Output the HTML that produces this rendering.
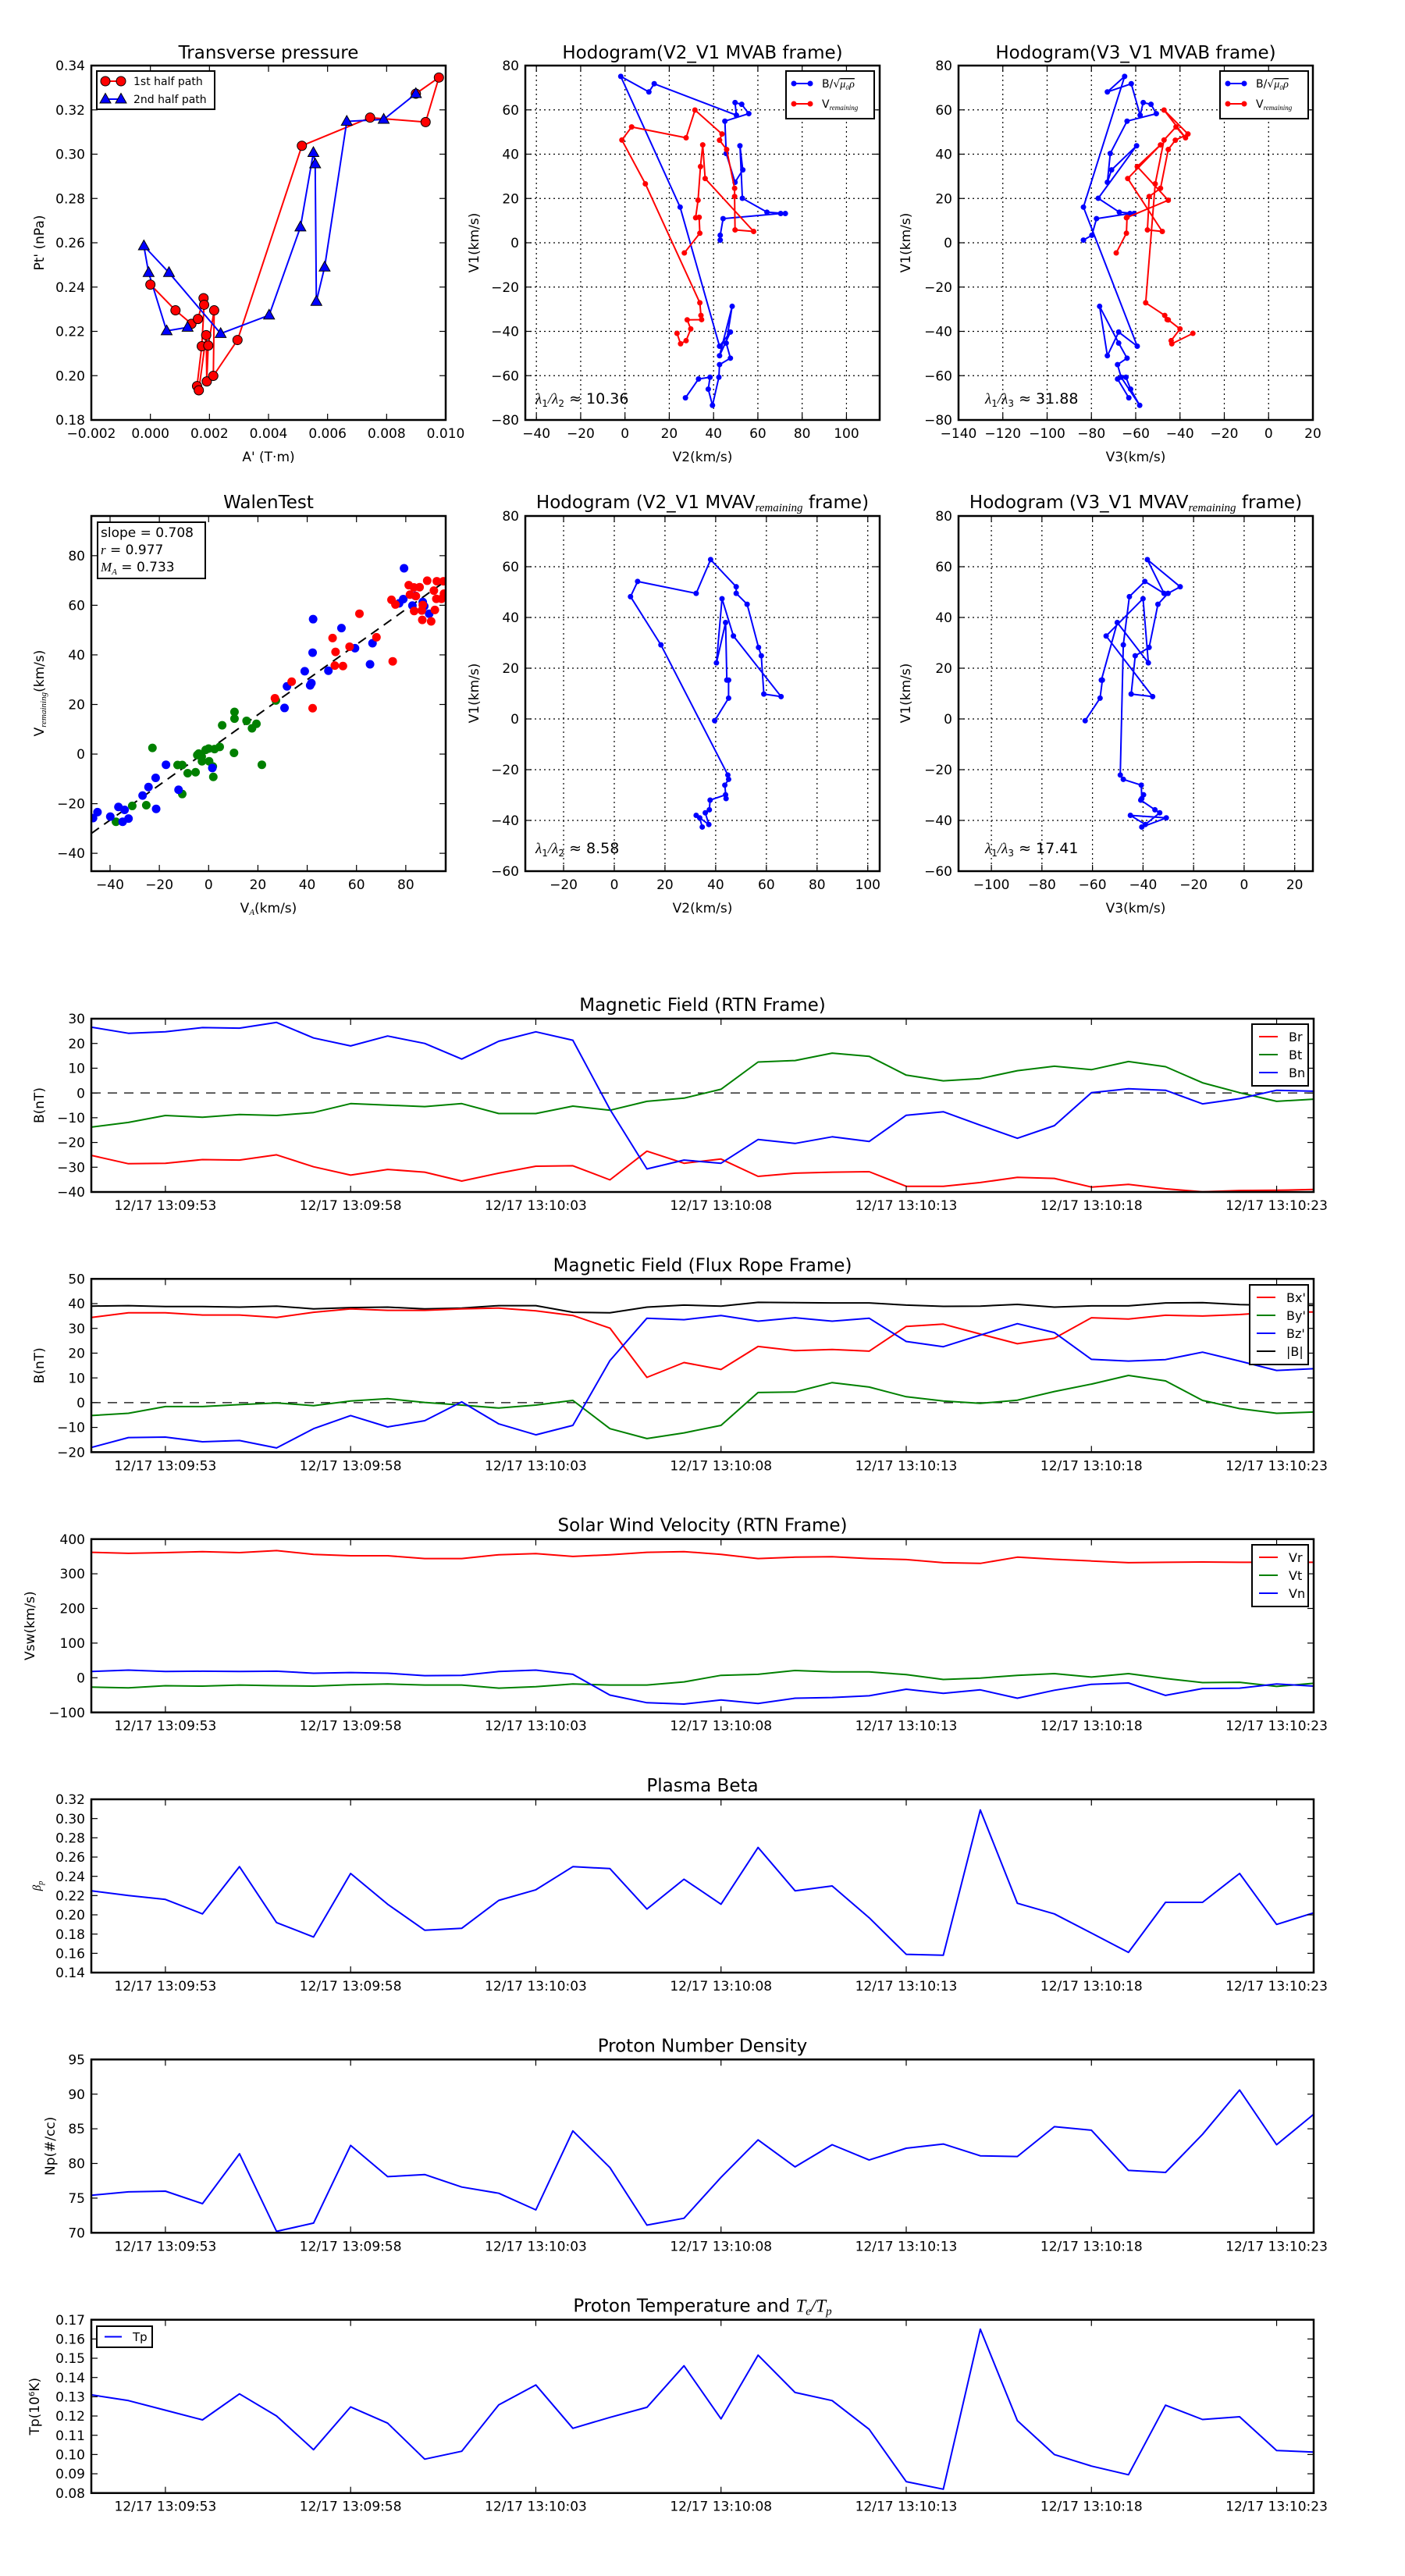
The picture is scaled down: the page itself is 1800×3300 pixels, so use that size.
<!DOCTYPE html>
<html><head><meta charset="utf-8">
<style>
html,body{margin:0;padding:0;background:#fff;}
svg{display:block;font-family:"DejaVu Sans","Liberation Sans",sans-serif;}
</style></head>
<body>
<svg id="fig" xmlns="http://www.w3.org/2000/svg" width="1800" height="3300" viewBox="0 0 1800 3300">
<rect x="0" y="0" width="1800" height="3300" fill="#fff"/>
</svg>
<script>
// ---------- Transverse pressure ----------
const tpRedA = [0.0000,0.00085,0.00139,0.00161,0.0018,0.00182,0.00174,0.00158,0.00164,0.00189,0.00191,0.00196,0.00216,0.00213,0.00295,0.00513,0.00744,0.00932,0.00977,0.00899];
const tpRedP = [0.2411,0.2295,0.2234,0.2256,0.235,0.232,0.2133,0.1953,0.1934,0.2183,0.1974,0.2136,0.2295,0.1999,0.2161,0.3038,0.3165,0.3145,0.3346,0.3273];
const tpBlueA = [0.00126,0.00055,-0.00006,-0.00022,0.00063,0.00238,0.00402,0.00508,0.00552,0.00558,0.00562,0.0059,0.00665,0.0079,0.00899];
const tpBlueP = [0.2218,0.2202,0.2465,0.2586,0.2465,0.2190,0.2273,0.2671,0.3007,0.2956,0.2335,0.2490,0.3148,0.3157,0.3273];
// ---------- Hodograms MVAB ----------
const h1BV2 = [27.3,33.2,38.4,37.6,39.5,42.4,42.7,47.6,45.7,48.4,42.7,47.6,42.7,24.9,-1.9,10.8,13.2,50.3,49.7,52.7,55.9,45.1,45.7,49.7,53.2,51.9,53.0,64.1,72.4,70.3,44.3,43.0,43.0];
const h1BV1 = [-70.0,-61.5,-60.7,-66.1,-73.4,-60.7,-55.0,-52.1,-45.3,-28.7,-51.0,-40.3,-46.7,16.1,75.1,68.1,71.8,57.6,63.3,62.5,58.3,54.9,40.3,27.3,32.9,43.8,20.1,13.8,13.2,13.2,10.9,3.4,1.2];
const h1BV3 = [-63.1,-68.2,-64.4,-62.3,-58.2,-66.6,-68.2,-63.9,-67.7,-76.3,-72.8,-67.7,-59.3,-83.6,-65.0,-72.8,-62.0,-58.0,-56.6,-53.1,-50.7,-63.9,-71.5,-72.8,-70.9,-59.6,-76.9,-67.4,-60.7,-62.6,-77.7,-79.8,-83.6];
const h1VV2 = [23.5,25.1,27.6,29.7,28.1,34.6,34.3,33.8,9.2,-1.4,3.0,27.6,31.6,43.8,42.7,45.9,49.5,49.5,49.7,58.1,36.2,35.1,34.1,33.0,31.9,33.5,33.8,26.8];
const h1VV1 = [-40.9,-45.6,-44.2,-38.9,-34.8,-34.7,-32.8,-27.1,26.6,46.4,52.3,47.4,59.9,49.1,46.3,42.1,24.6,20.9,5.8,5.1,29.0,44.2,34.4,19.2,11.3,11.5,4.3,-4.6];
const h1VV3 = [-34.2,-43.7,-44.0,-40.0,-45.3,-45.8,-46.9,-55.5,-51.2,-47.2,-41.8,-37.5,-47.2,-36.4,-42.1,-45.3,-48.8,-53.9,-54.7,-48.0,-63.6,-48.8,-59.3,-45.3,-64.2,-63.9,-64.2,-68.8];
const ratio1 = "10.36", ratio2 = "31.88", ratio3 = "8.58", ratio4 = "17.41";
// ---------- Hodograms MVAV ----------
const h2V2 = [34.7,33.7,32.3,37.3,35.9,37.5,37.8,43.9,44.1,43.6,45.1,44.8,18.4,6.4,9.2,32.3,38.0,48.1,48.1,52.4,56.9,58.0,59.0,65.8,47.0,42.5,40.3,43.9,44.4,45.1,45.1,39.6];
const h2V1 = [-42.6,-39.0,-38.0,-41.6,-37.0,-35.8,-32.0,-29.9,-31.4,-26.1,-23.8,-22.1,29.2,48.2,54.2,49.5,62.8,52.1,49.5,45.2,28.2,24.9,9.8,8.8,32.7,47.4,22.1,38.0,15.3,15.3,8.2,-0.7];
const h2V3 = [-40.5,-30.8,-45.0,-39.1,-33.4,-35.3,-40.9,-39.8,-40.5,-40.7,-47.8,-49.0,-47.8,-45.4,-39.3,-31.7,-38.3,-25.3,-30.1,-34.1,-37.6,-43.1,-44.7,-36.2,-54.6,-40.0,-37.9,-50.2,-56.5,-56.1,-57.0,-62.9];
// ---------- Walen test ----------
const wRedX = [74.2,75.8,81.2,83.3,85.6,88.7,92.6,95.3,81.7,84.1,91.4,92.4,94.5,91.8,86.5,83.4,86.7,90.3,86.9,95.5,61.2,50.3,51.5,57.2,68.1,51.2,54.5,74.7,33.7,26.9,42.2];
const wRedY = [62.2,60.3,68.1,67.2,67.3,69.9,69.7,69.7,64.3,63.7,65.9,62.6,62.6,58.1,57.9,57.7,54.1,53.5,60.1,64.7,56.6,46.8,41.2,43.3,47.1,35.7,35.5,37.4,29.2,22.5,18.5];
const wBlueX = [79.3,79.0,77.3,82.7,83.9,86.9,87.5,89.5,42.4,53.9,42.2,59.4,66.5,65.5,39.0,48.6,41.7,41.2,31.8,30.8,-17.3,-21.5,1.5,-24.4,-26.8,-12.2,-21.3,-45.1,-46.9,-36.6,-34.1,-39.9,-34.9,-32.5];
const wBlueY = [74.9,62.5,60.8,59.9,63.8,61.3,59.6,56.6,54.4,50.8,40.9,42.7,44.7,36.2,33.4,33.6,28.6,27.7,27.3,18.6,-4.3,-9.6,-5.6,-13.3,-16.7,-14.4,-22.1,-23.4,-25.8,-21.3,-22.5,-25.2,-27.3,-26.0];
const wGreenX = [27.3,10.5,10.5,15.4,19.4,17.6,5.5,21.6,-22.8,10.3,-4.0,-1.2,0.0,2.4,4.5,-2.7,0.2,1.7,1.9,-12.6,-10.7,-8.5,-5.3,-10.7,-25.3,-31.0,-37.6,-2.8,-4.6];
const wGreenY = [21.6,17.0,14.3,13.4,12.2,10.4,11.6,-4.3,2.5,0.5,0.2,1.7,2.2,2.0,2.9,-2.9,-2.9,-5.0,-9.2,-4.4,-4.4,-7.7,-7.3,-16.1,-20.6,-20.9,-27.3,-1.0,-0.4];
const fitSlope = 0.708, fitIntercept = 1.7;
const walenStats = ["0.708","0.977","0.733"];
// ---------- Time series (1 s cadence from 13:09:51) ----------
const timeTickLabels = ["12/17 13:09:53","12/17 13:09:58","12/17 13:10:03","12/17 13:10:08","12/17 13:10:13","12/17 13:10:18","12/17 13:10:23"];
const timeTickSec = [2,7,12,17,22,27,32];
const Br = [-25.2,-28.6,-28.4,-26.9,-27.1,-25.0,-29.8,-33.2,-30.9,-32.0,-35.6,-32.4,-29.6,-29.4,-35.1,-23.5,-28.4,-26.7,-33.7,-32.4,-32.0,-31.8,-37.7,-37.7,-36.2,-34.1,-34.5,-38.0,-36.9,-38.7,-39.9,-39.4,-39.3,-39.0];
const Bt = [-13.8,-11.9,-9.1,-9.8,-8.7,-9.1,-7.9,-4.3,-4.9,-5.5,-4.3,-8.3,-8.3,-5.3,-7.0,-3.4,-2.1,1.5,12.5,13.1,16.1,14.8,7.2,4.9,5.8,9.0,10.8,9.4,12.7,10.6,4.1,0.1,-3.4,-2.5];
const Bn = [26.6,24.1,24.7,26.4,26.2,28.5,22.2,19.0,23.0,20.0,13.7,20.9,24.7,21.3,-6.6,-30.7,-27.1,-28.4,-18.8,-20.4,-17.7,-19.6,-9.0,-7.6,-13.0,-18.3,-13.2,0.1,1.7,1.1,-4.4,-2.3,1.1,0.7];
const Bx = [34.4,36.3,36.3,35.4,35.4,34.4,36.5,37.9,37.3,37.3,37.9,38.2,37.1,35.2,30.1,10.2,16.2,13.4,22.7,21.0,21.5,20.8,30.8,31.7,27.7,23.8,26.0,34.3,33.8,35.3,35.0,35.6,36.6,36.6];
const By = [-5.2,-4.3,-1.6,-1.6,-0.8,-0.1,-1.2,0.7,1.6,0.1,-1.0,-2.2,-1.0,0.9,-10.5,-14.5,-12.2,-9.2,4.1,4.3,8.1,6.3,2.4,0.7,-0.3,1.0,4.5,7.5,11.0,8.8,0.9,-2.4,-4.3,-3.8];
const Bz = [-18.1,-14.1,-13.9,-15.8,-15.3,-18.3,-10.5,-5.2,-9.8,-7.3,0.3,-8.6,-13.0,-9.2,17.0,34.1,33.5,35.2,32.9,34.3,32.9,34.1,24.7,22.6,27.3,31.9,28.3,17.5,16.8,17.4,20.4,16.8,13.0,13.7];
const Bmag = [39.0,39.2,38.8,38.8,38.6,39.0,37.9,38.4,38.6,37.9,38.2,39.2,39.2,36.5,36.3,38.6,39.4,39.0,40.5,40.4,40.3,40.3,39.4,38.9,39.0,39.7,38.6,39.1,39.1,40.3,40.4,39.6,39.3,39.3];
const Vr = [362,359,361,364,361,367,356,352,352,344,344,355,358,350,355,362,364,356,344,348,349,344,341,332,330,348,342,337,332,333,334,333,333,333];
const Vt = [-27,-29,-23,-24,-21,-23,-24,-20,-18,-21,-21,-30,-26,-18,-21,-21,-12,7,10,21,17,17,9,-5,-1,7,12,2,12,-2,-14,-13,-25,-16];
const Vn = [18,22,18,19,18,19,13,15,13,6,7,18,22,10,-50,-72,-76,-64,-74,-59,-57,-52,-33,-45,-35,-59,-36,-19,-15,-51,-31,-30,-18,-24];
const betaP = [0.225,0.220,0.216,0.201,0.250,0.192,0.177,0.243,0.211,0.184,0.186,0.215,0.226,0.250,0.248,0.206,0.237,0.211,0.270,0.225,0.230,0.197,0.159,0.158,0.309,0.212,0.201,0.181,0.161,0.213,0.213,0.243,0.190,0.202];
const Np = [75.4,75.9,76.0,74.2,81.4,70.2,71.4,82.6,78.1,78.4,76.6,75.7,73.3,84.7,79.4,71.1,72.1,78.0,83.4,79.5,82.7,80.5,82.2,82.8,81.1,81.0,85.3,84.8,79.0,78.7,84.2,90.6,82.7,87.1];
const Tp = [0.131,0.128,0.123,0.118,0.1315,0.120,0.1025,0.1247,0.1163,0.0976,0.1017,0.1258,0.1361,0.1136,0.1193,0.1245,0.1461,0.1185,0.1516,0.1322,0.128,0.1131,0.0859,0.082,0.1651,0.1176,0.100,0.094,0.0895,0.1256,0.1182,0.1196,0.1021,0.1013];

const NS = "http://www.w3.org/2000/svg";
const svg = document.getElementById('fig');
const TF = 23, TK = 17, LB = 17;
function mk(tag, attrs, parent) {
  const e = document.createElementNS(NS, tag);
  for (const k in attrs) e.setAttribute(k, attrs[k]);
  (parent || svg).appendChild(e);
  return e;
}
function fmt(v, d) { return v.toFixed(d).replace('-', '\u2212'); }
function txt(parent, x, y, s, size, anchor, name) {
  const t = mk('text', {x: x, y: y, 'font-size': size, 'text-anchor': anchor || 'middle', fill: '#000'}, parent);
  t.textContent = s;
  
  
  return t;
}

function makeAxes(name, L, R, Tt, B, xmin, xmax, ymin, ymax, xt, yt, xd, yd, grid, fs) {
  const g = mk('g', {});
  
  
  const sx = v => L + (v - xmin) / (xmax - xmin) * (R - L);
  const sy = v => B - (v - ymin) / (ymax - ymin) * (B - Tt);
  const clipId = 'c' + name;
  const cp = mk('clipPath', {id: clipId}, g);
  mk('rect', {x: L, y: Tt, width: R - L, height: B - Tt}, cp);
  const grp = mk('g', {}, g);
  const plot = mk('g', {'clip-path': 'url(#' + clipId + ')'}, g);
  const frame = mk('g', {}, g);
  xt.forEach(v => {
    const x = sx(v);
    if (grid) mk('line', {x1: x, x2: x, y1: Tt, y2: B, stroke: '#000', 'stroke-width': 1.2, 'stroke-dasharray': '2,4'}, grp);
    mk('line', {x1: x, x2: x, y1: B, y2: B - 8, stroke: '#000', 'stroke-width': 1.2}, frame);
    mk('line', {x1: x, x2: x, y1: Tt, y2: Tt + 8, stroke: '#000', 'stroke-width': 1.2}, frame);
    if (xd !== null) txt(frame, x, B + 23, fmt(v, xd), fs, 'middle', 'x-tick-label');
  });
  yt.forEach(v => {
    const y = sy(v);
    if (grid) mk('line', {x1: L, x2: R, y1: y, y2: y, stroke: '#000', 'stroke-width': 1.2, 'stroke-dasharray': '2,4'}, grp);
    mk('line', {x1: L, x2: L + 8, y1: y, y2: y, stroke: '#000', 'stroke-width': 1.2}, frame);
    mk('line', {x1: R, x2: R - 8, y1: y, y2: y, stroke: '#000', 'stroke-width': 1.2}, frame);
    txt(frame, L - 8, y + fs * 0.36, fmt(v, yd), fs, 'end', 'y-tick-label');
  });
  mk('rect', {x: L, y: Tt, width: R - L, height: B - Tt, fill: 'none', stroke: '#000', 'stroke-width': 2.5}, frame);
  return {g, plot, frame, sx, sy, L, R, T: Tt, B};
}
function range(a, b, s) { const r = []; for (let v = a; v <= b + 1e-9; v += s) r.push(Math.round(v * 1e6) / 1e6); return r; }
function poly(ax, xs, ys, color, w, name) {
  const pts = xs.map((x, i) => ax.sx(x).toFixed(1) + ',' + ax.sy(ys[i]).toFixed(1)).join(' ');
  const p = mk('polyline', {points: pts, fill: 'none', stroke: color, 'stroke-width': w, 'stroke-linejoin': 'round'}, ax.plot);
  
  
  return p;
}
function dots(ax, xs, ys, color, r, name, stroke) {
  xs.forEach((x, i) => {
    const c = mk('circle', {cx: ax.sx(x), cy: ax.sy(ys[i]), r: r, fill: color, stroke: stroke || 'none', 'stroke-width': 1}, ax.plot);
    
    
  });
}
function tris(ax, xs, ys, color, name) {
  xs.forEach((x, i) => {
    const cx = ax.sx(x), cy = ax.sy(ys[i]);
    const t = mk('polygon', {points: `${cx},${cy - 7.5} ${cx - 7},${cy + 5} ${cx + 7},${cy + 5}`, fill: color, stroke: '#000', 'stroke-width': 1}, ax.plot);
    
    
  });
}
function ylabel(x, y, s, size, name) {
  const t = txt(svg, x, y, s, size, 'middle', name);
  t.setAttribute('transform', `rotate(-90 ${x} ${y})`);
  return t;
}

// ===== Transverse pressure =====
const axTP = makeAxes('transverse-pressure-chart', 117, 571, 84, 538, -0.002, 0.010, 0.18, 0.34, range(-0.002, 0.010, 0.002), range(0.18, 0.34, 0.02), 3, 2, false, TK);
poly(axTP, tpRedA, tpRedP, '#ff0000', 2, 'first-half-path-line');
poly(axTP, tpBlueA, tpBlueP, '#0000ff', 2, 'second-half-path-line');
dots(axTP, tpRedA, tpRedP, '#ff0000', 6, 'first-half-point', '#000');
tris(axTP, tpBlueA, tpBlueP, '#0000ff', 'second-half-point');
txt(svg, 344, 75, 'Transverse pressure', TF, 'middle', 'chart-title');
txt(svg, 344, 591, "A' (T\u00b7m)", LB, 'middle', 'x-axis-title');
ylabel(56, 311, "Pt' (nPa)", LB, 'y-axis-title');
(function () {
  const lg = mk('g', {});
  
  
  mk('rect', {x: 124, y: 91, width: 151, height: 49, fill: '#fff', stroke: '#000', 'stroke-width': 2}, lg);
  mk('line', {x1: 135, x2: 155, y1: 104, y2: 104, stroke: '#f00', 'stroke-width': 2}, lg);
  mk('circle', {cx: 135, cy: 104, r: 6, fill: '#f00', stroke: '#000'}, lg);
  mk('circle', {cx: 155, cy: 104, r: 6, fill: '#f00', stroke: '#000'}, lg);
  mk('line', {x1: 135, x2: 155, y1: 127, y2: 127, stroke: '#00f', 'stroke-width': 2}, lg);
  mk('polygon', {points: '135,119.5 128,132 142,132', fill: '#00f', stroke: '#000'}, lg);
  mk('polygon', {points: '155,119.5 148,132 162,132', fill: '#00f', stroke: '#000'}, lg);
  txt(lg, 171, 109, '1st half path', 14, 'start', 'legend-entry');
  txt(lg, 171, 132, '2nd half path', 14, 'start', 'legend-entry');
})();

// ===== Hodogram helpers =====
function hodoLegend(x) {
  const lg = mk('g', {});
  
  
  mk('rect', {x: x, y: 91, width: 113, height: 61, fill: '#fff', stroke: '#000', 'stroke-width': 2}, lg);
  mk('line', {x1: x + 10, x2: x + 31, y1: 107, y2: 107, stroke: '#00f', 'stroke-width': 2}, lg);
  mk('circle', {cx: x + 10, cy: 107, r: 3.5, fill: '#00f'}, lg);
  mk('circle', {cx: x + 31, cy: 107, r: 3.5, fill: '#00f'}, lg);
  mk('line', {x1: x + 10, x2: x + 31, y1: 133, y2: 133, stroke: '#f00', 'stroke-width': 2}, lg);
  mk('circle', {cx: x + 10, cy: 133, r: 3.5, fill: '#f00'}, lg);
  mk('circle', {cx: x + 31, cy: 133, r: 3.5, fill: '#f00'}, lg);
  const t1 = txt(lg, x + 46, 112, 'B/\u221A', 14, 'start', 'legend-entry');
  const ts = mk('tspan', {'font-family': 'Liberation Serif, serif', 'font-style': 'italic', 'text-decoration': 'overline'}, t1);
  ts.textContent = '\u03bc\u2080\u03c1';
  const t2 = txt(lg, x + 46, 138, 'V', 14, 'start', 'legend-entry');
  const ts2 = mk('tspan', {'font-family': 'Liberation Serif, serif', 'font-style': 'italic', 'font-size': 9, dy: 3}, t2);
  ts2.textContent = 'remaining';
}
function ratioText(x, y, a, b, val) {
  const t = txt(svg, x, y, '', 19, 'start', 'eigenvalue-ratio');
  const parts = [['\u03bb', 'i'], [a, 's'], ['/\u03bb', 'i'], [b, 's'], [' \u2248 ' + val, 'n']];
  parts.forEach(p => {
    const s = mk('tspan', {}, t);
    if (p[1] === 'i') { s.setAttribute('font-family', 'Liberation Serif, serif'); s.setAttribute('font-style', 'italic'); }
    if (p[1] === 's') { s.setAttribute('font-size', 12); s.setAttribute('dy', 4); }
    if (p[1] !== 's' && t.childNodes.length > 1) s.setAttribute('dy', -4);
    if (p[1] === 'n') s.setAttribute('font-family', 'DejaVu Sans, sans-serif');
    s.textContent = p[0];
  });
}

// ===== Hodogram V2_V1 MVAB =====
const axH1 = makeAxes('hodogram-v2-v1-mvab', 673, 1127, 84, 538, -45, 115, -80, 80, range(-40, 100, 20), range(-80, 80, 20), 0, 0, true, TK);
poly(axH1, h1BV2, h1BV1, '#0000ff', 2, 'b-alfven-path');
dots(axH1, h1BV2, h1BV1, '#0000ff', 3.5, 'b-alfven-point');
poly(axH1, h1VV2, h1VV1, '#ff0000', 2, 'v-remaining-path');
dots(axH1, h1VV2, h1VV1, '#ff0000', 3.5, 'v-remaining-point');
txt(svg, 900, 75, 'Hodogram(V2_V1 MVAB frame)', TF, 'middle', 'chart-title');
txt(svg, 900, 591, 'V2(km/s)', LB, 'middle', 'x-axis-title');
ylabel(613, 311, 'V1(km/s)', LB, 'y-axis-title');
hodoLegend(1007);
ratioText(686, 517, '1', '2', ratio1);

// ===== Hodogram V3_V1 MVAB =====
const axH2 = makeAxes('hodogram-v3-v1-mvab', 1228, 1682, 84, 538, -140, 20, -80, 80, range(-140, 20, 20), range(-80, 80, 20), 0, 0, true, TK);
poly(axH2, h1BV3, h1BV1, '#0000ff', 2, 'b-alfven-path');
dots(axH2, h1BV3, h1BV1, '#0000ff', 3.5, 'b-alfven-point');
poly(axH2, h1VV3, h1VV1, '#ff0000', 2, 'v-remaining-path');
dots(axH2, h1VV3, h1VV1, '#ff0000', 3.5, 'v-remaining-point');
txt(svg, 1455, 75, 'Hodogram(V3_V1 MVAB frame)', TF, 'middle', 'chart-title');
txt(svg, 1455, 591, 'V3(km/s)', LB, 'middle', 'x-axis-title');
ylabel(1166, 311, 'V1(km/s)', LB, 'y-axis-title');
hodoLegend(1563);
ratioText(1262, 517, '1', '3', ratio2);

// ===== Walen test =====
const axW = makeAxes('walen-test-chart', 117, 571, 661, 1116, -47.6, 96.2, -47.2, 96, range(-40, 80, 20), range(-40, 80, 20), 0, 0, false, TK);
(function () {
  const l = mk('line', {x1: axW.sx(-47.6), y1: axW.sy(fitSlope * -47.6 + fitIntercept), x2: axW.sx(96.2), y2: axW.sy(fitSlope * 96.2 + fitIntercept), stroke: '#000', 'stroke-width': 2, 'stroke-dasharray': '12,8'}, axW.plot);
  
  
})();
dots(axW, wGreenX, wGreenY, '#008000', 5.5, 'walen-point-green');
dots(axW, wBlueX, wBlueY, '#0000ff', 5.5, 'walen-point-blue');
dots(axW, wRedX, wRedY, '#ff0000', 5.5, 'walen-point-red');
txt(svg, 344, 651, 'WalenTest', TF, 'middle', 'chart-title');
(function () {
  const t = txt(svg, 344, 1169, 'V', LB, 'middle', 'x-axis-title');
  const s = mk('tspan', {'font-family': 'Liberation Serif, serif', 'font-style': 'italic', 'font-size': 11, dy: 3}, t);
  s.textContent = 'A';
  const s2 = mk('tspan', {dy: -3}, t);
  s2.textContent = '(km/s)';
  const y = ylabel(56, 888, 'V', LB, 'y-axis-title');
  const s3 = mk('tspan', {'font-family': 'Liberation Serif, serif', 'font-style': 'italic', 'font-size': 11, dy: 3}, y);
  s3.textContent = 'remaining';
  const s4 = mk('tspan', {dy: -3}, y);
  s4.textContent = '(km/s)';
  const box = mk('g', {});
  
  
  mk('rect', {x: 125, y: 669, width: 138, height: 72, fill: '#fff', stroke: '#000', 'stroke-width': 2}, box);
  txt(box, 129, 688, 'slope = ' + walenStats[0], 17, 'start', 'slope-text');
  const r = txt(box, 129, 710, '', 17, 'start', 'r-text');
  const ri = mk('tspan', {'font-family': 'Liberation Serif, serif', 'font-style': 'italic'}, r); ri.textContent = 'r';
  const rv = mk('tspan', {}, r); rv.textContent = ' = ' + walenStats[1];
  const m = txt(box, 129, 732, '', 17, 'start', 'ma-text');
  const mi = mk('tspan', {'font-family': 'Liberation Serif, serif', 'font-style': 'italic'}, m); mi.textContent = 'M';
  const ms = mk('tspan', {'font-family': 'Liberation Serif, serif', 'font-style': 'italic', 'font-size': 11, dy: 4}, m); ms.textContent = 'A';
  const mv = mk('tspan', {dy: -4}, m); mv.textContent = ' = ' + walenStats[2];
})();

// ===== Hodogram MVAV =====
function mvavTitle(x, s1) {
  const t = txt(svg, x, 651, s1, TF, 'middle', 'chart-title');
  const s = mk('tspan', {'font-family': 'Liberation Serif, serif', 'font-style': 'italic', 'font-size': 15, dy: 4}, t);
  s.textContent = 'remaining';
  const s2 = mk('tspan', {dy: -4}, t);
  s2.textContent = ' frame)';
}
const axH3 = makeAxes('hodogram-v2-v1-mvav', 673, 1127, 661, 1116, -35.1, 104.7, -60, 80, range(-20, 100, 20), range(-60, 80, 20), 0, 0, true, TK);
poly(axH3, h2V2, h2V1, '#0000ff', 2, 'b-alfven-path');
dots(axH3, h2V2, h2V1, '#0000ff', 3.5, 'b-alfven-point');
mvavTitle(900, 'Hodogram (V2_V1 MVAV');
txt(svg, 900, 1169, 'V2(km/s)', LB, 'middle', 'x-axis-title');
ylabel(613, 888, 'V1(km/s)', LB, 'y-axis-title');
ratioText(686, 1093, '1', '2', ratio3);

const axH4 = makeAxes('hodogram-v3-v1-mvav', 1228, 1682, 661, 1116, -113, 27.2, -60, 80, range(-100, 20, 20), range(-60, 80, 20), 0, 0, true, TK);
poly(axH4, h2V3, h2V1, '#0000ff', 2, 'b-alfven-path');
dots(axH4, h2V3, h2V1, '#0000ff', 3.5, 'b-alfven-point');
mvavTitle(1455, 'Hodogram (V3_V1 MVAV');
txt(svg, 1455, 1169, 'V3(km/s)', LB, 'middle', 'x-axis-title');
ylabel(1166, 888, 'V1(km/s)', LB, 'y-axis-title');
ratioText(1262, 1093, '1', '3', ratio4);

// ===== Time series =====
const secs = Br.map((_, i) => i);
function tsAxes(name, top, ymin, ymax, ystep, yd) {
  const ax = makeAxes(name, 117, 1683, top, top + 222, 0, 33, ymin, ymax, [], range(ymin, ymax, ystep), null, yd, false, TK);
  timeTickSec.forEach((s, i) => {
    const x = ax.sx(s);
    mk('line', {x1: x, x2: x, y1: ax.B, y2: ax.B - 8, stroke: '#000', 'stroke-width': 1.2}, ax.frame);
    mk('line', {x1: x, x2: x, y1: ax.T, y2: ax.T + 8, stroke: '#000', 'stroke-width': 1.2}, ax.frame);
    txt(ax.frame, x, ax.B + 23, timeTickLabels[i], TK, 'middle', 'x-tick-label');
  });
  return ax;
}
function zeroLine(ax) {
  const l = mk('line', {x1: ax.L, x2: ax.R, y1: ax.sy(0), y2: ax.sy(0), stroke: '#000', 'stroke-width': 1.2, 'stroke-dasharray': '12,9'}, ax.plot);
  
  
}
function tsLegend(x, y, w, labels, colors) {
  const lg = mk('g', {});
  
  
  mk('rect', {x: x, y: y, width: w, height: labels.length * 23 + 10, fill: '#fff', stroke: '#000', 'stroke-width': 2}, lg);
  labels.forEach((lb, i) => {
    const yy = y + 16 + i * 23;
    mk('line', {x1: x + 9, x2: x + 33, y1: yy, y2: yy, stroke: colors[i], 'stroke-width': 2}, lg);
    txt(lg, x + 47, yy + 6, lb, 16, 'start', 'legend-entry');
  });
}
const tops = [1305, 1638.3, 1971.7, 2305, 2638.3, 2971.7];

const ax1 = tsAxes('magnetic-field-rtn-chart', tops[0], -40, 30, 10, 0);
zeroLine(ax1);
poly(ax1, secs, Br, '#ff0000', 2, 'br-line');
poly(ax1, secs, Bt, '#008000', 2, 'bt-line');
poly(ax1, secs, Bn, '#0000ff', 2, 'bn-line');
txt(svg, 900, tops[0] - 10, 'Magnetic Field (RTN Frame)', TF, 'middle', 'chart-title');
ylabel(56, tops[0] + 111, 'B(nT)', LB, 'y-axis-title');
tsLegend(1604, 1312, 72, ['Br', 'Bt', 'Bn'], ['#f00', '#008000', '#00f']);

const ax2 = tsAxes('magnetic-field-flux-rope-chart', tops[1], -20, 50, 10, 0);
zeroLine(ax2);
poly(ax2, secs, Bmag, '#000000', 2, 'bmag-line');
poly(ax2, secs, Bx, '#ff0000', 2, 'bx-line');
poly(ax2, secs, By, '#008000', 2, 'by-line');
poly(ax2, secs, Bz, '#0000ff', 2, 'bz-line');
txt(svg, 900, tops[1] - 10, 'Magnetic Field (Flux Rope Frame)', TF, 'middle', 'chart-title');
ylabel(56, tops[1] + 111, 'B(nT)', LB, 'y-axis-title');
tsLegend(1601, 1646, 75, ["Bx'", "By'", "Bz'", '|B|'], ['#f00', '#008000', '#00f', '#000']);

const ax3 = tsAxes('solar-wind-velocity-chart', tops[2], -100, 400, 100, 0);
poly(ax3, secs, Vr, '#ff0000', 2, 'vr-line');
poly(ax3, secs, Vt, '#008000', 2, 'vt-line');
poly(ax3, secs, Vn, '#0000ff', 2, 'vn-line');
txt(svg, 900, tops[2] - 10, 'Solar Wind Velocity (RTN Frame)', TF, 'middle', 'chart-title');
ylabel(44, tops[2] + 111, 'Vsw(km/s)', LB, 'y-axis-title');
tsLegend(1604, 1979, 72, ['Vr', 'Vt', 'Vn'], ['#f00', '#008000', '#00f']);

const ax4 = tsAxes('plasma-beta-chart', tops[3], 0.14, 0.32, 0.02, 2);
poly(ax4, secs, betaP, '#0000ff', 2, 'beta-line');
txt(svg, 900, tops[3] - 10, 'Plasma Beta', TF, 'middle', 'chart-title');
(function () {
  const t = ylabel(52, tops[3] + 111, '', 15, 'y-axis-title');
  const a = mk('tspan', {'font-family': 'Liberation Serif, serif', 'font-style': 'italic'}, t); a.textContent = '\u03b2';
  const b = mk('tspan', {'font-family': 'Liberation Serif, serif', 'font-style': 'italic', 'font-size': 10, dy: 3}, t); b.textContent = 'p';
})();

const ax5 = tsAxes('proton-density-chart', tops[4], 70, 95, 5, 0);
poly(ax5, secs, Np, '#0000ff', 2, 'np-line');
txt(svg, 900, tops[4] - 10, 'Proton Number Density', TF, 'middle', 'chart-title');
ylabel(70, tops[4] + 111, 'Np(#/cc)', LB, 'y-axis-title');

const ax6 = tsAxes('proton-temperature-chart', tops[5], 0.08, 0.17, 0.01, 2);
poly(ax6, secs, Tp, '#0000ff', 2, 'tp-line');
(function () {
  const t = txt(svg, 900, tops[5] - 10, 'Proton Temperature and ', TF, 'middle', 'chart-title');
  const a = mk('tspan', {'font-family': 'Liberation Serif, serif', 'font-style': 'italic'}, t); a.textContent = 'T';
  const b = mk('tspan', {'font-family': 'Liberation Serif, serif', 'font-style': 'italic', 'font-size': 15, dy: 4}, t); b.textContent = 'e';
  const c = mk('tspan', {'font-family': 'Liberation Serif, serif', 'font-style': 'italic', dy: -4}, t); c.textContent = '/T';
  const d = mk('tspan', {'font-family': 'Liberation Serif, serif', 'font-style': 'italic', 'font-size': 15, dy: 4}, t); d.textContent = 'p';
  const y = ylabel(50, tops[5] + 111, 'Tp(10', LB, 'y-axis-title');
  const e = mk('tspan', {'font-size': 10, dy: -6}, y); e.textContent = '6';
  const f = mk('tspan', {dy: 6}, y); f.textContent = 'K)';
  const lg = mk('g', {});
  
  
  mk('rect', {x: 124, y: 2980, width: 71, height: 27, fill: '#fff', stroke: '#000', 'stroke-width': 2}, lg);
  mk('line', {x1: 134, x2: 156, y1: 2993.5, y2: 2993.5, stroke: '#00f', 'stroke-width': 2}, lg);
  txt(lg, 170, 2999, 'Tp', 15, 'start', 'legend-entry');
})();
</script>
</body></html>
